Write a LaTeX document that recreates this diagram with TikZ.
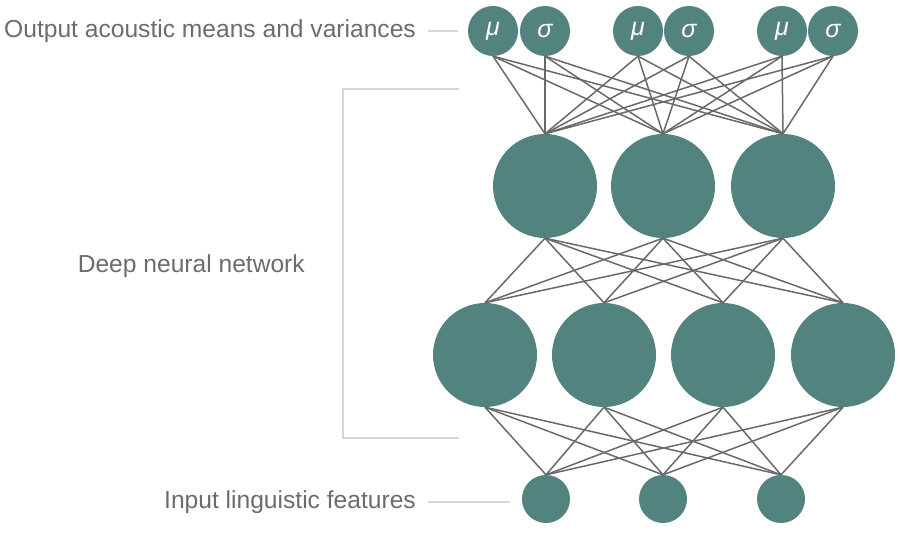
\documentclass[tikz,border=0pt]{standalone}
\usepackage{fontspec}
\setsansfont{Liberation Sans}
\usepackage{tikz}
\usetikzlibrary{positioning}
\definecolor{unitteal}{RGB}{82,131,127}
\definecolor{linkgray}{RGB}{105,105,105}
\definecolor{bracketgray}{RGB}{214,214,214}
\definecolor{labelgray}{RGB}{108,108,108}
\tikzset{
  outunit/.style={circle, fill=unitteal, minimum size=50pt, inner sep=0pt,
                  text=white, font=\sffamily\itshape\fontsize{25}{28}\selectfont},
  hidunit/.style={circle, fill=unitteal, minimum size=104pt, inner sep=0pt},
  inunit/.style={circle, fill=unitteal, minimum size=48pt, inner sep=0pt},
  link/.style={draw=linkgray, line width=1.5pt},
  bracket/.style={draw=bracketgray, line width=2pt},
  caption/.style={text=labelgray, font=\sffamily\fontsize{24.6}{28}\selectfont, inner sep=0pt},
}

\begin{document}
\begin{tikzpicture}[x=1pt, y=-1pt]
\useasboundingbox (0,0) rectangle (900,540);

% output layer
\node[outunit] (out1) at (493,31) {μ};
\node[outunit] (out2) at (545,31) {σ};
\node[outunit] (out3) at (638,31) {μ};
\node[outunit] (out4) at (689,31) {σ};
\node[outunit] (out5) at (782,31) {μ};
\node[outunit] (out6) at (833,31) {σ};

% hidden layers
\node[hidunit] (hidA1) at (545,186) {};
\node[hidunit] (hidA2) at (663,186) {};
\node[hidunit] (hidA3) at (783,186) {};
\node[hidunit] (hidB1) at (485,355) {};
\node[hidunit] (hidB2) at (604,355) {};
\node[hidunit] (hidB3) at (723,355) {};
\node[hidunit] (hidB4) at (843,355) {};

% input layer
\node[inunit] (in1) at (546,499) {};
\node[inunit] (in2) at (663,499) {};
\node[inunit] (in3) at (781,499) {};

% connections
\foreach \o in {1,...,6}
  \foreach \h in {1,2,3}
    \draw[link] (out\o.south) -- (hidA\h.north);
\foreach \a in {1,2,3}
  \foreach \b in {1,...,4}
    \draw[link] (hidA\a.south) -- (hidB\b.north);
\foreach \b in {1,...,4}
  \foreach \i in {1,2,3}
    \draw[link] (hidB\b.south) -- (in\i.north);

% labels
\node[caption, anchor=east] (outlabel) at (416,31) {Output acoustic means and variances};
\node[caption, anchor=east] (dnnlabel) at (305,266) {Deep neural network};
\node[caption, anchor=east] (inlabel) at (416,502) {Input linguistic features};

\draw[bracket] ([xshift=12pt]outlabel.east) -- ([xshift=-10pt]outlabel.east -| out1.west);
\draw[bracket] ([xshift=12pt]inlabel.east) -- ([xshift=-12pt]inlabel.east -| in1.west);

% bracket round the hidden layers
\coordinate (brtop) at (459,89);
\coordinate (brbot) at (459,438);
\draw[bracket] (brtop) -- ++(-116,0) |- (brbot);
\end{tikzpicture}
\end{document}
